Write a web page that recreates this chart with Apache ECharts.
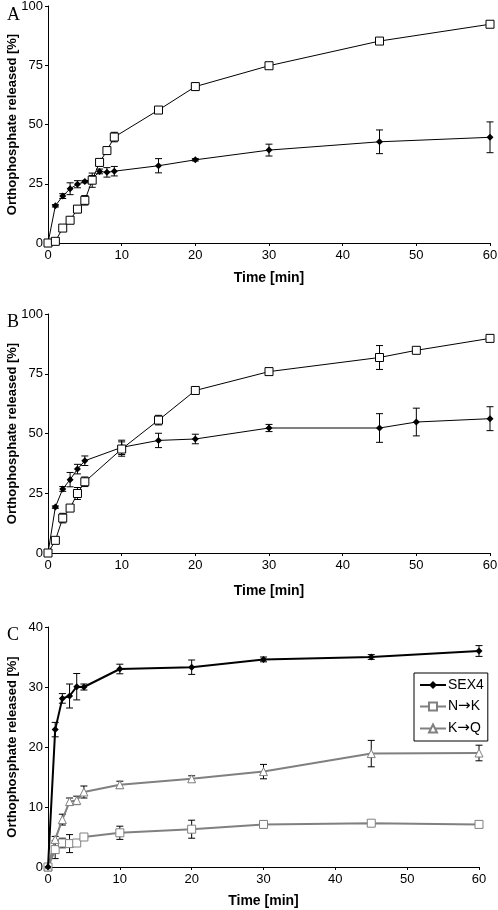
<!DOCTYPE html>
<html>
<head>
<meta charset="utf-8">
<script src="https://cdn.jsdelivr.net/npm/echarts@6/dist/echarts.min.js"></script>
<style>html,body{margin:0;padding:0;background:#fff;}#c{width:498px;height:910px;}</style>
</head>
<body>
<div id="c"></div>
<script>
// Panel A
var timeA = [0, 1, 2, 3, 4, 5, 6, 7, 8, 9, 15, 20, 30, 45, 60];
var sexA = [0, 15.7, 19.8, 22.9, 24.8, 25.9, 27, 30.2, 29.8, 30.3, 32.6, 35.1, 39.2, 42.7, 44.6];
var sexAErr = [0, 0.5, 1, 2.5, 1.5, 0.5, 1.5, 1, 2, 2, 3, 0.5, 2.5, 5, 6.5];
var sqA = [0, 0.7, 6.3, 9.6, 14.3, 18, 26.5, 34, 39, 44.7, 56.1, 66, 74.8, 85.2, 92.3];
var sqAErr = [1.5, 0, 0, 0, 1.5, 2, 3, 0.5, 0, 2, 0.5, 1.5, 0.5, 0.5, 0.5];
// Panel B
var timeB = [0, 1, 2, 3, 4, 5, 10, 15, 20, 30, 45, 50, 60];
var sexB = [0, 19.2, 26.8, 30.7, 35.1, 38.6, 44.2, 47.1, 47.7, 52.3, 52.3, 54.8, 56.2];
var sexBErr = [0, 0.5, 1, 3, 2, 2, 3, 3, 2, 1.5, 6, 5.8, 5];
var sqB = [0, 5.3, 14.6, 18.8, 24.9, 29.8, 43.5, 55.6, 68, 75.9, 81.8, 84.8, 89.8];
var sqBErr = [0, 0.5, 2, 0.5, 2.5, 2, 3, 2, 0.5, 0.5, 5, 0.5, 0.5];
// Panel C
var timeC = [0, 1, 2, 3, 4, 5, 10, 20, 30, 45, 60];
var sexC = [0, 22.9, 28.1, 28.5, 30.05, 30, 33, 33.3, 34.6, 35, 36];
var sexCErr = [0, 1.2, 0.8, 2, 2.2, 0.5, 0.8, 1.2, 0.4, 0.4, 0.9];
var nkC = [0, 2.9, 4, 3.9, 4, 5, 5.7, 6.3, 7.1, 7.3, 7.1];
var nkCErr = [0, 1.5, 0.8, 1.5, 0.3, 0.3, 1.1, 1.5, 0.6, 0.3, 0.4];
var kqC = [0, 4.6, 7.9, 10.9, 11.1, 12.5, 13.7, 14.7, 15.9, 18.9, 19.0];
var kqCErr = [0, 0.5, 0.9, 0.6, 0.7, 1, 0.6, 0.5, 1.2, 2.2, 1.3];

var seriesNames = ['SEX4', 'N\u2192K', 'K\u2192Q'];
var yTicksAB = [0, 25, 50, 75, 100];
var yTicksC = [0, 10, 20, 30, 40];

var FONT = 'Liberation Sans, Arial, sans-serif';

function pairs(t, v) { return t.map(function (x, i) { return [x, v[i]]; }); }
function errData(t, v, e) {
  var out = [];
  t.forEach(function (x, i) { if (e[i] > 0.25) out.push([x, v[i] - e[i], v[i] + e[i]]); });
  return out;
}
function errSeries(idx, t, v, e) {
  return {
    type: 'custom', xAxisIndex: idx, yAxisIndex: idx, z: 1, silent: true,
    data: errData(t, v, e),
    encode: { x: 0, y: [1, 2] },
    renderItem: function (params, api) {
      var x = api.value(0);
      var lo = api.coord([x, api.value(1)]);
      var hi = api.coord([x, api.value(2)]);
      var w = 3.5;
      var st = { stroke: '#000', lineWidth: 1 };
      return {
        type: 'group', children: [
          { type: 'line', shape: { x1: lo[0], y1: lo[1], x2: hi[0], y2: hi[1] }, style: st },
          { type: 'line', shape: { x1: lo[0] - w, y1: lo[1], x2: lo[0] + w, y2: lo[1] }, style: st },
          { type: 'line', shape: { x1: hi[0] - w, y1: hi[1], x2: hi[0] + w, y2: hi[1] }, style: st }
        ]
      };
    }
  };
}

function xAxis(idx, gap) {
  return {
    type: 'value', gridIndex: idx, min: 0, max: 60, interval: 10,
    name: 'Time [min]', nameLocation: 'middle', nameGap: gap, nameMoveOverlap: false,
    nameTextStyle: { fontFamily: FONT, fontSize: 14, fontWeight: 'bold', color: '#000' },
    axisLine: { lineStyle: { color: '#000', width: 1 } },
    axisTick: { inside: false, length: 3, lineStyle: { color: '#000' } },
    axisLabel: { fontFamily: FONT, fontSize: 13, color: '#000', margin: 6 },
    splitLine: { show: false }
  };
}
function yAxis(idx, max, interval) {
  return {
    type: 'value', gridIndex: idx, min: 0, max: max, interval: interval,
    name: 'Orthophosphate released [%]', nameLocation: 'middle', nameGap: 29, nameMoveOverlap: false,
    nameTextStyle: { fontFamily: FONT, fontSize: 13, fontWeight: 'bold', color: '#000' },
    axisLine: { show: true, lineStyle: { color: '#000', width: 1 } },
    axisTick: { show: true, inside: false, length: 3, lineStyle: { color: '#000' } },
    axisLabel: { fontFamily: FONT, fontSize: 13, color: '#000', margin: 5 },
    splitLine: { show: false }
  };
}

var SERIF = 'Liberation Serif, Times New Roman, serif';
var option = {
  animation: false,
  backgroundColor: '#fff',
  title: [
    { text: 'A', left: 2, top: 1, textStyle: { fontFamily: SERIF, fontSize: 18, fontWeight: 'normal', color: '#000' } },
    { text: 'B', left: 2, top: 308, textStyle: { fontFamily: SERIF, fontSize: 18, fontWeight: 'normal', color: '#000' } },
    { text: 'C', left: 2, top: 621, textStyle: { fontFamily: SERIF, fontSize: 18, fontWeight: 'normal', color: '#000' } }
  ],
  grid: [
    { left: 48, right: 8, top: 6, height: 237, outerBoundsMode: 'none', containLabel: false },
    { left: 48, right: 8, top: 314, height: 239, outerBoundsMode: 'none', containLabel: false },
    { left: 48, right: 19, top: 627, height: 240, outerBoundsMode: 'none', containLabel: false }
  ],
  xAxis: [xAxis(0, 28), xAxis(1, 31), xAxis(2, 27)],
  yAxis: [yAxis(0, 100, 25), yAxis(1, 100, 25), yAxis(2, 40, 10)],
  legend: {
    data: seriesNames,
    left: 414, top: 673, orient: 'vertical',
    borderColor: '#000', borderWidth: 1, borderRadius: 0,
    padding: [5, 4, 5, 5], itemGap: 7, itemWidth: 26, itemHeight: 10,
    formatter: function (n) {
      var p = n.split('\u2192');
      if (p.length === 2) return '{t|' + p[0] + '}{a|\u2192}{t|' + p[1] + '}';
      return '{t|' + n + '}';
    },
    textStyle: {
      fontFamily: FONT, fontSize: 14, color: '#000', padding: [0, 0, 0, -3],
      rich: {
        t: { fontFamily: FONT, fontSize: 14, color: '#000' },
        a: { fontFamily: 'DejaVu Sans, sans-serif', fontSize: 15, color: '#000' }
      }
    }
  },
  series: [
    errSeries(0, timeA, sexA, sexAErr),
    errSeries(0, timeA, sqA, sqAErr),
    { name: 'A SEX4', type: 'line', xAxisIndex: 0, yAxisIndex: 0, data: pairs(timeA, sexA),
      symbol: 'diamond', symbolSize: 7, itemStyle: { color: '#000' }, lineStyle: { color: '#000', width: 1 }, z: 3 },
    { name: 'A sq', type: 'line', xAxisIndex: 0, yAxisIndex: 0, data: pairs(timeA, sqA),
      symbol: 'rect', symbolSize: 8, itemStyle: { color: '#fff', borderColor: '#000', borderWidth: 1 }, lineStyle: { color: '#000', width: 1 }, z: 4 },

    errSeries(1, timeB, sexB, sexBErr),
    errSeries(1, timeB, sqB, sqBErr),
    { name: 'B SEX4', type: 'line', xAxisIndex: 1, yAxisIndex: 1, data: pairs(timeB, sexB),
      symbol: 'diamond', symbolSize: 7, itemStyle: { color: '#000' }, lineStyle: { color: '#000', width: 1 }, z: 3 },
    { name: 'B sq', type: 'line', xAxisIndex: 1, yAxisIndex: 1, data: pairs(timeB, sqB),
      symbol: 'rect', symbolSize: 8, itemStyle: { color: '#fff', borderColor: '#000', borderWidth: 1 }, lineStyle: { color: '#000', width: 1 }, z: 4 },

    errSeries(2, timeC, sexC, sexCErr),
    errSeries(2, timeC, nkC, nkCErr),
    errSeries(2, timeC, kqC, kqCErr),
    { name: seriesNames[0], type: 'line', xAxisIndex: 2, yAxisIndex: 2, data: pairs(timeC, sexC),
      symbol: 'diamond', symbolSize: 7, itemStyle: { color: '#000' }, lineStyle: { color: '#000', width: 2 }, z: 4 },
    { name: seriesNames[1], type: 'line', xAxisIndex: 2, yAxisIndex: 2, data: pairs(timeC, nkC),
      symbol: 'rect', symbolSize: 8, itemStyle: { color: '#fff', borderColor: '#808080', borderWidth: 1 }, lineStyle: { color: '#808080', width: 2 }, z: 3 },
    { name: seriesNames[2], type: 'line', xAxisIndex: 2, yAxisIndex: 2, data: pairs(timeC, kqC),
      symbol: 'triangle', symbolSize: 8, itemStyle: { color: '#fff', borderColor: '#808080', borderWidth: 1 }, lineStyle: { color: '#808080', width: 2 }, z: 3 }
  ]
};
var chart = echarts.init(document.getElementById('c'), null, { renderer: 'canvas' });
chart.setOption(option);
</script>
</body>
</html>
